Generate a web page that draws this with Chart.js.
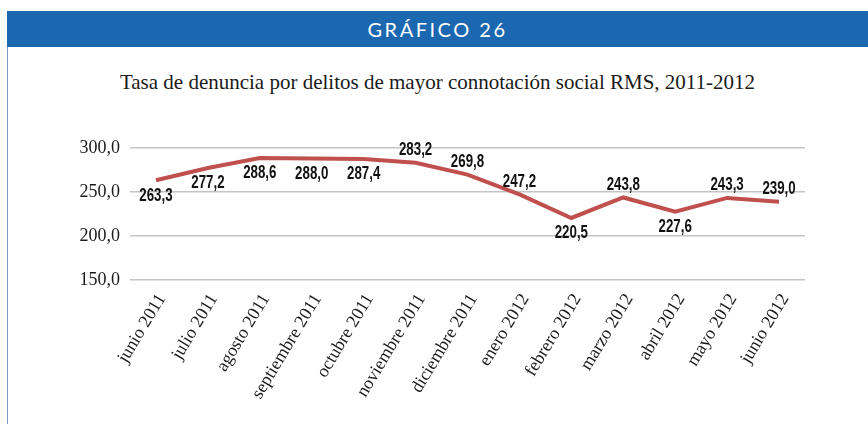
<!DOCTYPE html>
<html>
<head>
<meta charset="utf-8">
<script src="https://cdn.jsdelivr.net/npm/chart.js@4"></script>
<style>
  html, body { margin: 0; padding: 0; background: #fff; }
  #wrap { position: relative; width: 868px; height: 424px; overflow: hidden; }
  #header {
    position: absolute; left: 7px; top: 11px; width: 861px; height: 36px;
    background: #1b67b0; color: #fff; text-align: center;
    font: 20px "Lato", "Open Sans", sans-serif; letter-spacing: 2.5px; line-height: 36px;
  }
  #side { position: absolute; left: 7px; top: 47px; width: 1px; height: 377px; background: #7f9cc4; }
  #title {
    position: absolute; left: 7px; width: 861px; top: 70px; text-align: center;
    font: 21px "Liberation Serif", serif; color: #1a1a1a;
  }
  canvas { position: absolute; left: 0; top: 0; }
</style>
</head>
<body>
<div id="wrap">
  <div id="header">GRÁFICO 26</div>
  <div id="side"></div>
  <div id="title">Tasa de denuncia por delitos de mayor connotación social RMS, 2011-2012</div>
  <canvas id="chart" width="868" height="424"></canvas>
</div>
<script>
  // Months, June 2011 to June 2012
  const months = ['junio 2011', 'julio 2011', 'agosto 2011', 'septiembre 2011', 'octubre 2011',
    'noviembre 2011', 'diciembre 2011', 'enero 2012', 'febrero 2012', 'marzo 2012',
    'abril 2012', 'mayo 2012', 'junio 2012'];
  const rates = [263.3, 277.2, 288.6, 288.0, 287.4, 283.2, 269.8, 247.2, 220.5, 243.8, 227.6, 243.3, 239.0];
  // where each value label sits relative to its point
  const labelSide = ['below', 'below', 'below', 'below', 'below', 'above', 'above', 'above',
    'below', 'above', 'below', 'above', 'above'];

  const fmt = v => v.toFixed(1).replace('.', ',');

  // draw the value labels next to each point (squeezed to look condensed)
  const valueLabels = {
    id: 'valueLabels',
    afterDatasetsDraw(chart) {
      const ctx = chart.ctx;
      const meta = chart.getDatasetMeta(0);
      const sx = 0.7;
      meta.data.forEach((pt, i) => {
        const dy = labelSide[i] === 'above' ? -13 : 15;
        ctx.save();
        ctx.font = 'bold 19px "Liberation Sans", Arial, sans-serif';
        ctx.fillStyle = '#111';
        ctx.textAlign = 'center';
        ctx.textBaseline = 'middle';
        ctx.translate(pt.x, pt.y + dy);
        ctx.scale(sx, 1);
        ctx.fillText(fmt(rates[i]), 0, 0);
        ctx.restore();
      });
    }
  };

  new Chart(document.getElementById('chart').getContext('2d'), {
    type: 'line',
    data: {
      labels: months,
      datasets: [{
        data: rates,
        borderColor: '#c0504d',
        borderWidth: 4,
        pointRadius: 0,
        tension: 0,
        fill: false
      }]
    },
    options: {
      responsive: false,
      animation: false,
      layout: { padding: { top: 148, right: 63, left: 0, bottom: 0 } },
      plugins: {
        legend: { display: false },
        tooltip: { enabled: false }
      },
      scales: {
        x: {
          offset: true,
          grid: { display: false },
          border: { display: false },
          ticks: {
            minRotation: 59, maxRotation: 59,
            padding: 2,
            labelOffset: 6,
            color: '#1a1a1a',
            font: { family: '"Liberation Serif", serif', size: 18 }
          },
          afterFit(scale) { scale.height = 144; }
        },
        y: {
          min: 150, max: 300,
          ticks: {
            stepSize: 50,
            padding: 10,
            color: '#1a1a1a',
            font: { family: '"Liberation Serif", serif', size: 18 },
            callback: v => fmt(v)
          },
          grid: { color: '#c4c4c4', lineWidth: 1.5, drawTicks: false },
          border: { display: false },
          afterFit(scale) { scale.width = 130; }
        }
      }
    },
    plugins: [valueLabels]
  });
</script>
</body>
</html>
